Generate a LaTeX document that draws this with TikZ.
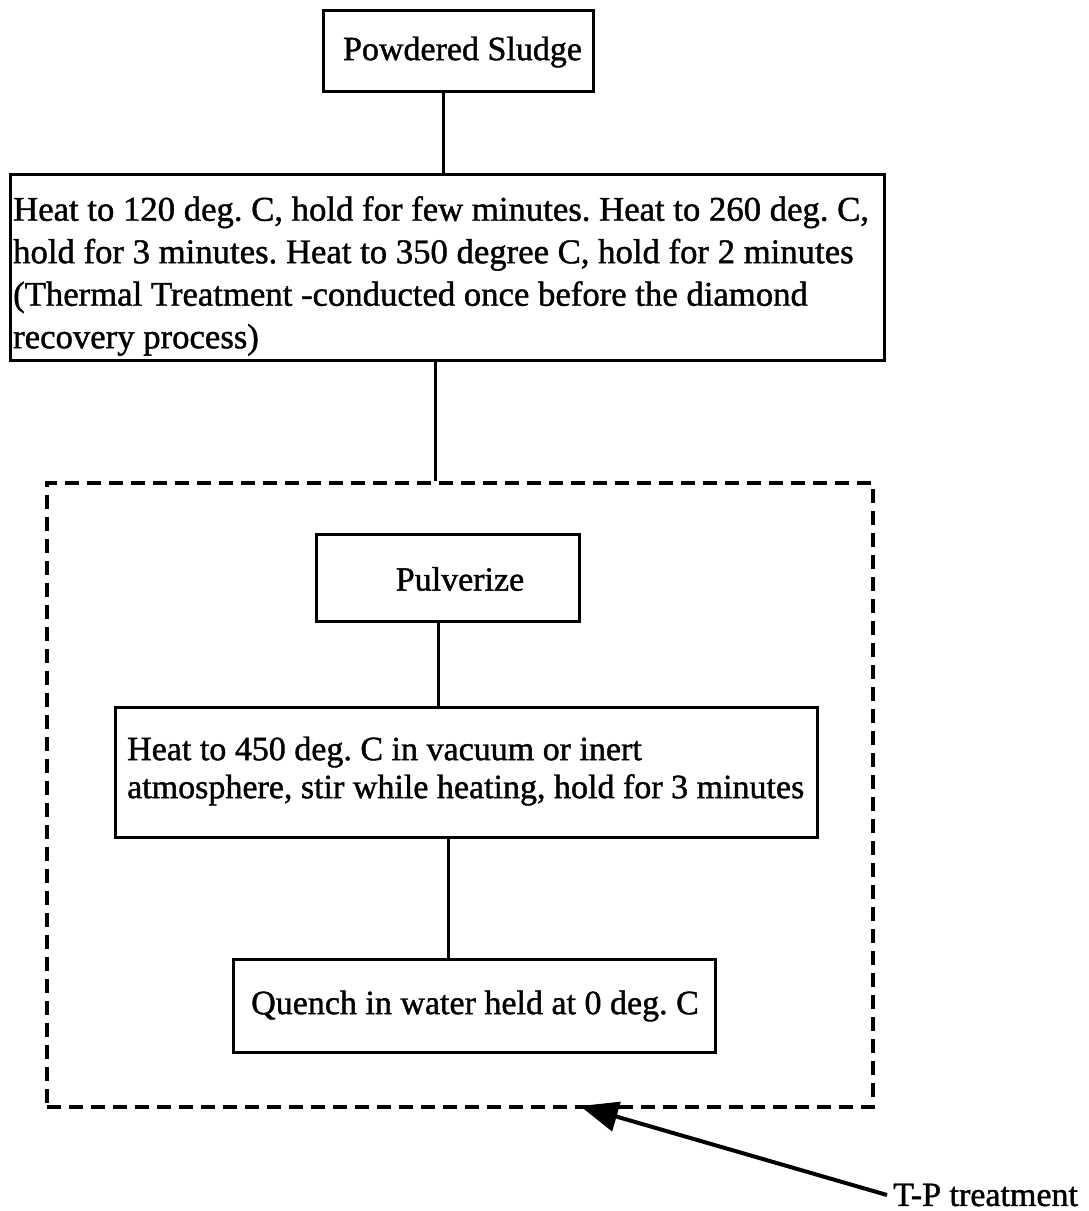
\documentclass[tikz,border=0pt]{standalone}
\usepackage{fontspec}
\setmainfont{Liberation Serif}[FakeBold=1.2]
\usetikzlibrary{arrows.meta}
\frenchspacing
\begin{document}
\begin{tikzpicture}[x=1pt,y=1pt,
  every node/.style={font=\fontsize{34}{38}\selectfont},
  stepbox/.style={draw, line width=3pt, inner sep=0pt},
  txt/.style={inner sep=0pt, align=left},
  conn/.style={line width=3pt},
  group/.style={draw, line width=3.5pt, dash pattern=on 14pt off 8pt}]
\useasboundingbox (0,0) rectangle (1088,-1211);
% boxes
\node[stepbox, minimum width=270pt, minimum height=81pt] (sludge) at (458,-50.5) {};
\node[stepbox, minimum width=874pt, minimum height=186pt] (thermal) at (447,-267) {};
\node[group, minimum width=826pt, minimum height=624pt] (tp) at (460,-795) {};
\node[stepbox, minimum width=263pt, minimum height=87pt] (pulv) at (447.5,-577.5) {};
\node[stepbox, minimum width=702pt, minimum height=130pt] (heat) at (466,-772) {};
\node[stepbox, minimum width=482pt, minimum height=93pt] (quench) at (474,-1005.5) {};
% texts
\node[txt] (sludgetxt) at (462.5,-52) {Powdered Sludge};
\node[txt, anchor=west, font=\fontsize{34.7}{42.5}\selectfont] (thermaltxt) at (13,-276)
 {Heat to 120 deg. C, hold for few minutes. Heat to 260 deg. C,\\
  hold for 3 minutes. Heat to 350 degree C, hold for 2 minutes\\
  (Thermal Treatment -conducted once before the diamond\\
  recovery process)};
\node[txt] (pulvtxt) at (460,-579) {Pulverize};
\node[txt, anchor=west] (heattxt) at (127,-771)
 {Heat to 450 deg. C in vacuum or inert\\
  atmosphere, stir while heating, hold for 3 minutes};
\node[txt] (quenchtxt) at (475,-1006) {Quench in water held at 0 deg. C};
\node[anchor=west, inner sep=0pt] (label) at (893,-1195) {T-P treatment};
% connectors
\coordinate (c1) at (443,-91);
\coordinate (c2) at (435,-360);
\coordinate (c3) at (438,-621);
\coordinate (c4) at (448,-837);
\draw[conn] (c1) -- (c1 |- thermal.north);
\draw[conn] (c2) -- (c2 |- tp.north);
\draw[conn] (c3) -- (c3 |- heat.north);
\draw[conn] (c4) -- (c4 |- quench.north);
\coordinate (tip) at (580,-1106);
\draw[line width=4pt, -{Triangle[length=38pt,width=30pt]}] ([xshift=-6pt]label.west) -- (tip);
\end{tikzpicture}
\end{document}
